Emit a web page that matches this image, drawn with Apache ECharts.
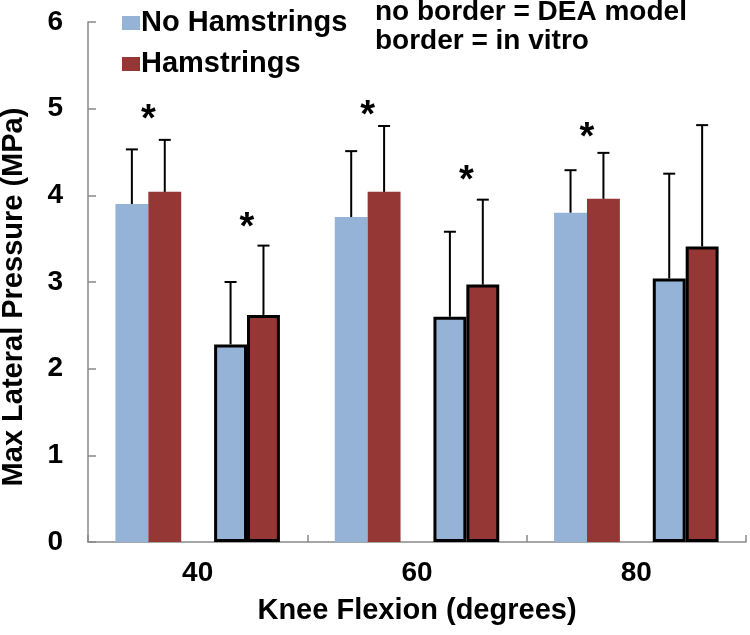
<!DOCTYPE html>
<html>
<head>
<meta charset="utf-8">
<script src="https://cdn.jsdelivr.net/npm/echarts@6/dist/echarts.min.js"></script>
<style>
html, body { margin: 0; padding: 0; background: #fff; }
#main { width: 750px; height: 635px; }
</style>
</head>
<body>
<div id="main"></div>
<script>
var categories = ['40', '60', '80'];
// bar heights (MPa)
var deaNoHam = [3.90, 3.75, 3.80];
var deaHam = [4.04, 4.04, 3.96];
var vitroNoHam = [2.28, 2.60, 3.04];
var vitroHam = [2.62, 2.97, 3.41];
// upper error (MPa)
var deaNoHamErr = [0.63, 0.76, 0.49];
var deaHamErr = [0.60, 0.76, 0.53];
var vitroNoHamErr = [0.72, 0.98, 1.21];
var vitroHamErr = [0.80, 0.98, 1.40];
// where the asterisks sit, null = none
var deaStar = [4.95, 5.00, 4.75];
var vitroStar = [3.71, 4.25, null];

var FONT = '"Liberation Sans", Arial, sans-serif';
var BLUE = '#95b3d7';
var RED = '#953735';
var BAR = 0.15; // bar width as share of one category

function errData(vals, errs, slot) {
    return vals.map(function (v, i) { return [i, v, errs[i], slot]; });
}
function starData(vals, side) {
    var out = [];
    vals.forEach(function (v, i) {
        if (v != null) out.push([i, v, side]);
    });
    return out;
}

function renderErr(params, api) {
    var v = api.value(1);
    var base = api.coord([api.value(0), v]);
    var top = api.coord([api.value(0), v + api.value(2)]);
    var bw = api.size([1, 0])[0] * BAR;
    var x = base[0] + (api.value(3) - 2) * bw;
    var st = { stroke: '#000', lineWidth: 2 };
    return {
        type: 'group',
        children: [
            { type: 'line', shape: { x1: x, y1: base[1], x2: x, y2: top[1] }, style: st },
            { type: 'line', shape: { x1: x - 6, y1: top[1], x2: x + 6, y2: top[1] }, style: st }
        ]
    };
}

function renderStar(params, api) {
    var p = api.coord([api.value(0), api.value(1)]);
    var bw = api.size([1, 0])[0] * BAR;
    return {
        type: 'text',
        x: p[0] + api.value(2) * bw,
        y: p[1] + 8,
        style: {
            text: '*',
            fill: '#000',
            font: 'bold 38px ' + FONT,
            textAlign: 'center',
            textVerticalAlign: 'middle'
        }
    };
}

function bar(name, data, color, border) {
    return {
        type: 'bar',
        name: name,
        data: data,
        barWidth: BAR * 100 + '%',
        barGap: 0,
        itemStyle: {
            color: color,
            borderColor: border ? '#000' : color,
            borderWidth: border ? 3 : 0
        }
    };
}

var chart = echarts.init(document.getElementById('main'));
chart.setOption({
    animation: false,
    backgroundColor: '#fff',
    textStyle: { fontFamily: FONT },
    grid: { left: 88, right: 4, top: 22, bottom: 93, containLabel: false, outerBoundsMode: 'none' },
    legend: {
        data: ['No Hamstrings', 'Hamstrings'],
        orient: 'vertical',
        left: 117,
        top: 3,
        icon: 'rect',
        itemWidth: 18,
        itemHeight: 14,
        itemGap: 11,
        selectedMode: false,
        textStyle: { fontFamily: FONT, fontWeight: 'bold', fontSize: 29, lineHeight: 30, color: '#000', padding: [0, 0, 0, -4] }
    },
    graphic: [{
        type: 'text',
        left: 375,
        top: -2,
        style: {
            text: 'no border = DEA model\nborder = in vitro',
            font: 'bold 28px ' + FONT,
            lineHeight: 29,
            fill: '#000'
        }
    }],
    xAxis: {
        type: 'category',
        data: categories,
        axisLine: { lineStyle: { color: '#898989', width: 1.5 } },
        axisTick: { show: true, inside: true, length: 7, lineStyle: { color: '#898989', width: 1.5 } },
        axisLabel: { fontFamily: FONT, fontWeight: 'bold', fontSize: 28, color: '#000', margin: 17 },
        name: 'Knee Flexion (degrees)',
        nameLocation: 'middle',
        nameGap: 54,
        nameTextStyle: { fontFamily: FONT, fontWeight: 'bold', fontSize: 29, color: '#000' }
    },
    yAxis: {
        type: 'value',
        min: 0,
        max: 6,
        interval: 1,
        splitLine: { show: false },
        axisLine: { show: true, lineStyle: { color: '#898989', width: 1.5 } },
        axisTick: { show: true, inside: true, length: 8, lineStyle: { color: '#898989', width: 1.5 } },
        axisLabel: { fontFamily: FONT, fontWeight: 'bold', fontSize: 28, color: '#000', margin: 25 },
        name: 'Max Lateral Pressure (MPa)',
        nameLocation: 'middle',
        nameGap: 60,
        nameTextStyle: { fontFamily: FONT, fontWeight: 'bold', fontSize: 29, color: '#000', padding: [0, 30, 0, 0] }
    },
    series: [
        bar('No Hamstrings', deaNoHam, BLUE, false),
        bar('Hamstrings', deaHam, RED, false),
        bar('spacer', ['-', '-', '-'], 'transparent', false),
        bar('No Hamstrings', vitroNoHam, BLUE, true),
        bar('Hamstrings', vitroHam, RED, true),
        {
            type: 'custom',
            name: 'err',
            renderItem: renderErr,
            data: [].concat(
                errData(deaNoHam, deaNoHamErr, 0),
                errData(deaHam, deaHamErr, 1),
                errData(vitroNoHam, vitroNoHamErr, 3),
                errData(vitroHam, vitroHamErr, 4)
            ),
            z: 5
        },
        {
            type: 'custom',
            name: 'star',
            renderItem: renderStar,
            data: [].concat(starData(deaStar, -1.5), starData(vitroStar, 1.5)),
            z: 5
        }
    ]
});
</script>
</body>
</html>
